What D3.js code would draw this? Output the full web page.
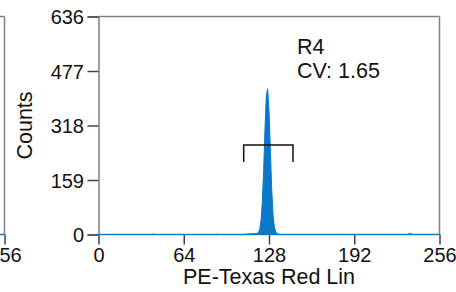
<!DOCTYPE html>
<html><head><meta charset="utf-8">
<script src="https://cdn.jsdelivr.net/npm/d3@7"></script>
<style>
body{margin:0;background:#fff;}
svg{display:block;font-family:Arial,"Liberation Sans",sans-serif;}
</style></head>
<body><svg id="c" width="456" height="292"></svg>
<script>
// channel counts (PE-Texas Red Lin, 256 channels)
const peakChannels = [108,110,112,113,114,115,116,117,118,119,120,121,122,123,124,125,126,127,128,129,130,131,132,133,134,135,136,138];
const peakCounts   = [0,1,2,1,3,2,2,3,2,3,6,14,40,95,190,310,405,425,360,250,135,60,22,8,3,1,0,0];
const tailChannels = [40,41,60,61,88,89,232,233,234,235,236];
const tailCounts   = [0,1,0,1,0,1,0,2,3,1,0];
const xTicks = [0,64,128,192,256];
const yTicks = [0,159,318,477,636];
const gateRange = [109,146];
const gateLevel = 261;
const gateName = "R4";
const gateCV = "CV: 1.65";
const xLabel = "PE-Texas Red Lin";
const yLabel = "Counts";

const svg = d3.select("#c");
const x = d3.scaleLinear().domain([0,256]).range([98.5,439.5]);
const y = d3.scaleLinear().domain([0,636]).range([234.5,16.5]);

const counts = new Array(257).fill(0);
peakChannels.forEach((c,i)=>counts[c]=peakCounts[i]);
tailChannels.forEach((c,i)=>counts[c]=tailCounts[i]);
const hist = counts.map((v,i)=>({c:i,v:v}));

const frameColor = "#808080";
const blue = "#0a78c8";
const tfs = 20, lfs = 21.5;

// left panel remnant
const xl = d3.scaleLinear().domain([0,256]).range([-336.5,4.5]);
svg.append("line").attr("x1",0).attr("x2",xl(256)).attr("y1",16.5).attr("y2",16.5).attr("stroke",frameColor).attr("stroke-width",1.5);
svg.append("line").attr("x1",xl(256)).attr("x2",xl(256)).attr("y1",16.5).attr("y2",234.5).attr("stroke",frameColor).attr("stroke-width",1.5);
svg.append("line").attr("x1",0).attr("x2",xl(256)).attr("y1",234.5).attr("y2",234.5).attr("stroke",blue).attr("stroke-width",1.5);
const gl = svg.append("g").attr("transform","translate(0,234.5)")
  .call(d3.axisBottom(xl).tickValues([256]).tickSize(10).tickPadding(4));
gl.select(".domain").remove();

// title remnant
svg.append("text").attr("x",371).attr("y",-5).attr("text-anchor","end").attr("font-size",lfs).attr("fill","#222").text("Histogram (R4 Area)");

// histogram
const area = d3.area().x(d=>x(d.c)).y0(y(0)).y1(d=>y(d.v)).curve(d3.curveLinear);
svg.append("path").datum(hist).attr("d",area).attr("fill",blue).attr("stroke",blue).attr("stroke-width",1);

// frame top/right
svg.append("line").attr("x1",x(0)).attr("x2",x(256)).attr("y1",y(636)).attr("y2",y(636)).attr("stroke",frameColor).attr("stroke-width",1.5);
svg.append("line").attr("x1",x(256)).attr("x2",x(256)).attr("y1",y(636)).attr("y2",y(0)).attr("stroke",frameColor).attr("stroke-width",1.5);

// axes
const gx = svg.append("g").attr("transform",`translate(0,${y(0)})`)
  .call(d3.axisBottom(x).tickValues(xTicks).tickSize(10).tickPadding(4));
const gy = svg.append("g").attr("transform",`translate(${x(0)},0)`)
  .call(d3.axisLeft(y).tickValues(yTicks).tickSize(11).tickPadding(3.5));
[gx,gy,gl].forEach(g=>{
  g.selectAll("text").attr("font-size",tfs).attr("fill","#111").attr("font-family","Arial,'Liberation Sans',sans-serif");
  g.selectAll(".tick line").attr("stroke","#444").attr("stroke-width",1.5);
  g.select(".domain").attr("stroke",frameColor).attr("stroke-width",1.5);
});
gx.select(".domain").remove();
svg.append("line").attr("x1",x(0)).attr("x2",x(256)).attr("y1",y(0)).attr("y2",y(0)).attr("stroke",blue).attr("stroke-width",1.5).attr("opacity",0.8);
gy.selectAll("text").attr("dy","0.35em");
gx.selectAll("text").attr("y",0).attr("dy",null).attr("transform","translate(0,27.5)");
gl.selectAll("text").attr("y",0).attr("dy",null).attr("transform","translate(0,27.5)");

// axis labels
svg.append("text").attr("x",(x(0)+x(256))/2).attr("y",284).attr("text-anchor","middle").attr("font-size",lfs).attr("fill","#111").text(xLabel);
svg.append("text").attr("transform",`translate(31.5,${(y(0)+y(636))/2}) rotate(-90)`).attr("text-anchor","middle").attr("font-size",lfs).attr("fill","#111").text(yLabel);

// gate bracket
const gy0 = y(gateLevel), drop = 17;
svg.append("path")
  .attr("d",`M${x(gateRange[0])},${gy0+drop}V${gy0}H${x(gateRange[1])}V${gy0+drop}`)
  .attr("fill","none").attr("stroke","#111").attr("stroke-width",1.5);

// gate annotation
svg.append("text").attr("x",297).attr("y",54).attr("font-size",lfs).attr("fill","#111").text(gateName);
svg.append("text").attr("x",297).attr("y",77.5).attr("font-size",lfs).attr("fill","#111").text(gateCV);
</script></body></html>
